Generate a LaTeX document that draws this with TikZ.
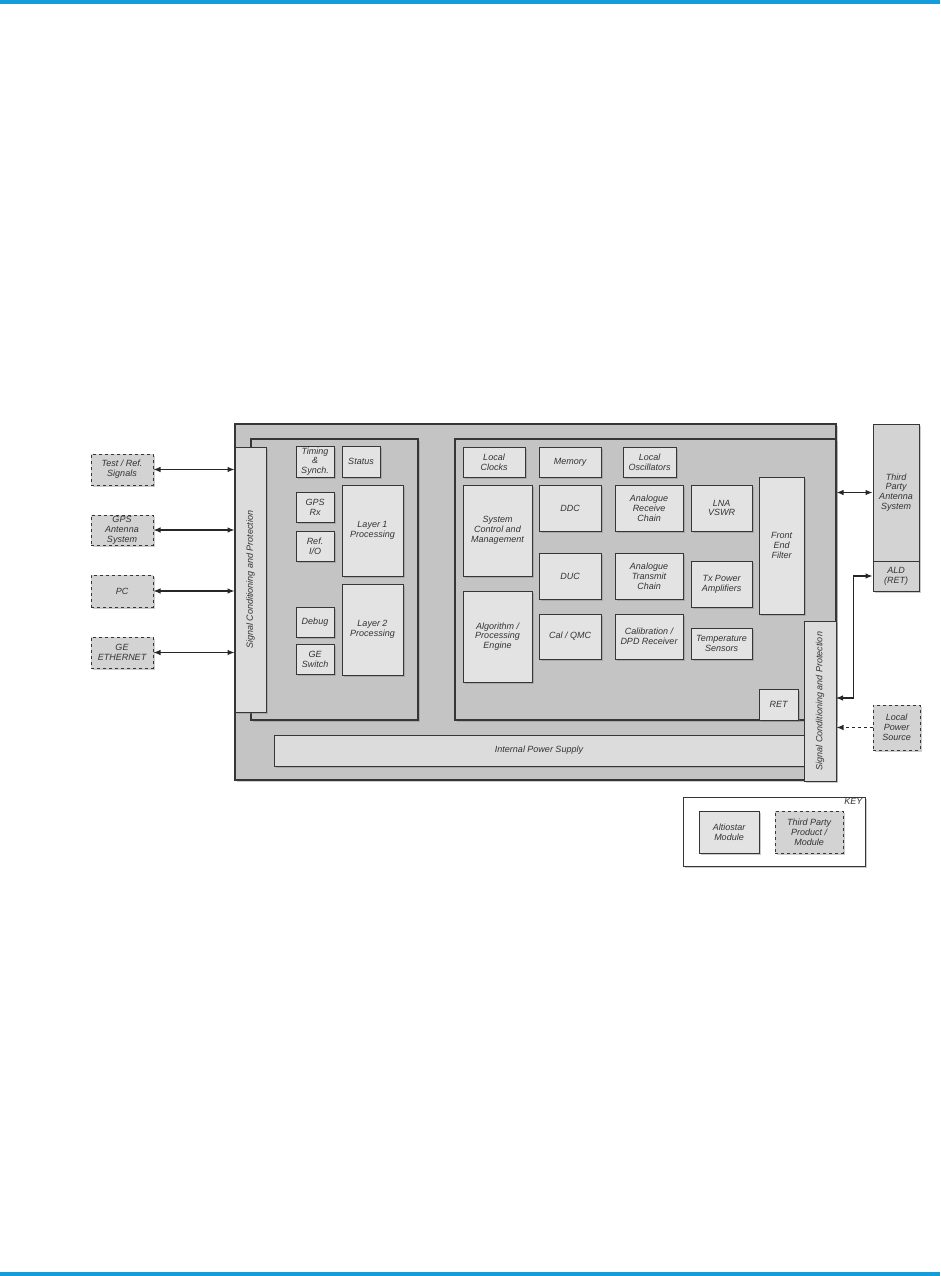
\documentclass[tikz,border=0pt]{standalone}
\usepackage{fontspec}
\setmainfont{Liberation Sans}
\usetikzlibrary{arrows.meta,shadows}
\definecolor{bandblue}{HTML}{149CDB}
\definecolor{edgegray}{HTML}{363636}
\definecolor{casegray}{HTML}{C4C4C4}
\definecolor{modgray}{HTML}{E3E3E3}
\definecolor{bargray}{HTML}{DCDCDC}
\definecolor{tpgray}{HTML}{D3D3D3}

\begin{document}
\begin{tikzpicture}[x=1pt,y=-1pt,
    every node/.style={font=\itshape\fontsize{9}{9.8}\selectfont, text=black!80, align=center, inner sep=1pt},
    shade/.style={drop shadow={shadow xshift=1.5pt, shadow yshift=-1.5pt, opacity=0.4}},
    casing/.style={draw=edgegray, line width=1.1pt, fill=casegray, shade},
    sigbar/.style={draw=edgegray, line width=1pt, fill=bargray, shade},
    module/.style={draw=edgegray, line width=1pt, fill=modgray, shade},
    thirdparty/.style={module, dashed, fill=tpgray},
    link/.style={{Latex[length=7pt,width=5.5pt]}-{Latex[length=7pt,width=5.5pt]}, line width=1.1pt, draw=black!85},
    feed/.style={-{Latex[length=7pt,width=5.5pt]}, dashed, line width=1.1pt, draw=black!85}]
    \useasboundingbox (0,0) rectangle (940,1276);
    % Page bands
    \fill[bandblue] (0,0) rectangle (940,4);
    \fill[bandblue] (0,1272) rectangle (940,1276);
    % Unit and panels
    \node[casing, minimum width=601, minimum height=356] (unit) at (535.5,602) {};
    \node[casing, minimum width=167, minimum height=281] (lpanel) at (334.5,579.5) {};
    \node[casing, minimum width=381, minimum height=281] (rpanel) at (645.5,579.5) {};
    \node[sigbar, minimum width=530, minimum height=31] (power) at (539,750.5) {Internal Power Supply};
    \node[sigbar, minimum width=31, minimum height=265] (lsig) at (250.5,579.5) {};
    \node[rotate=90] at (lsig) {Signal Conditioning and Protection};
    \node[sigbar, minimum width=32, minimum height=160] (rsig) at (820,701) {};
    \node[rotate=90] at (rsig) {Signal Conditioning and Protection};
    % Left panel
    \node[module, minimum width=38, minimum height=31] (timing) at (315,461.5) {Timing\\\&\\Synch.};
    \node[module, minimum width=38, minimum height=31] (status) at (361,461.5) {Status};
    \node[module, minimum width=38, minimum height=30] (gpsrx) at (315,507) {GPS\\Rx};
    \node[module, minimum width=38, minimum height=30] (refio) at (315,546) {Ref.\\I/O};
    \node[module, minimum width=61, minimum height=91] (layerone) at (372.5,530.5) {Layer 1\\Processing};
    \node[module, minimum width=38, minimum height=30] (debug) at (315,622) {Debug};
    \node[module, minimum width=38, minimum height=30] (geswitch) at (315,659) {GE\\Switch};
    \node[module, minimum width=61, minimum height=91] (layertwo) at (372.5,629.5) {Layer 2\\Processing};
    % Right panel
    \node[module, minimum width=62, minimum height=30] (clocks) at (494,462) {Local\\Clocks};
    \node[module, minimum width=62, minimum height=30] (memory) at (570,462) {Memory};
    \node[module, minimum width=53, minimum height=30] (osc) at (649.5,462) {Local\\Oscillators};
    \node[module, minimum width=69, minimum height=91] (sysctrl) at (497.5,530.5) {System\\Control and\\Management};
    \node[module, minimum width=69, minimum height=91] (algo) at (497.5,636.5) {Algorithm /\\Processing\\Engine};
    \node[module, minimum width=62, minimum height=46] (ddc) at (570,508) {DDC};
    \node[module, minimum width=62, minimum height=46] (duc) at (570,576) {DUC};
    \node[module, minimum width=62, minimum height=45] (calqmc) at (570,636.5) {Cal / QMC};
    \node[module, minimum width=68, minimum height=46] (rxchain) at (649,508) {Analogue\\Receive\\Chain};
    \node[module, minimum width=68, minimum height=46] (txchain) at (649,576) {Analogue\\Transmit\\Chain};
    \node[module, minimum width=68, minimum height=45] (dpdrx) at (649,636.5) {Calibration /\\DPD Receiver};
    \node[module, minimum width=61, minimum height=46] (lna) at (721.5,508) {LNA\\VSWR};
    \node[module, minimum width=61, minimum height=46] (txpa) at (721.5,584) {Tx Power\\Amplifiers};
    \node[module, minimum width=61, minimum height=31] (temp) at (721.5,643.5) {Temperature\\Sensors};
    \node[module, minimum width=45, minimum height=137] (frontend) at (781.5,545.5) {Front\\End\\Filter};
    \node[module, minimum width=39, minimum height=31] (ret) at (778.5,704.5) {RET};
    % Outside the unit
    \node[thirdparty, minimum width=62, minimum height=31] (testref) at (122,469.5) {Test / Ref.\\Signals};
    \node[thirdparty, minimum width=62, minimum height=30] (gpsant) at (122,530) {GPS\\Antenna\\System};
    \node[thirdparty, minimum width=62, minimum height=32] (pc) at (122,591) {PC};
    \node[thirdparty, minimum width=62, minimum height=31] (geeth) at (122,652.5) {GE\\ETHERNET};
    \node[module, fill=tpgray, minimum width=46, minimum height=137] (antenna) at (896,492.5) {Third\\Party\\Antenna\\System};
    \node[module, fill=tpgray, minimum width=46, minimum height=30] (ald) at (896,576) {ALD\\(RET)};
    \node[thirdparty, minimum width=47, minimum height=45] (localpwr) at (896.5,727.5) {Local\\Power\\Source};
    % Links
    \draw[link] (testref.east) -- (testref.east -| lsig.west);
    \draw[link] (gpsant.east) -- (gpsant.east -| lsig.west);
    \draw[link] (pc.east) -- (pc.east -| lsig.west);
    \draw[link] (geeth.east) -- (geeth.east -| lsig.west);
    \draw[link] (antenna.west) -- (antenna.west -| unit.east);
    \coordinate (retport) at (836,698);
    \draw[link] (ald.west) -- ++(-19,0) |- (retport);
    \draw[feed] (localpwr.west) -- (localpwr.west -| rsig.east);
    % Key
    \node[draw=edgegray, line width=1pt, fill=white, shade, minimum width=182, minimum height=69] (key) at (774,831.5) {};
    \node[anchor=north east] at ([xshift=-2pt,yshift=-1pt]key.north east) {KEY};
    \node[module, minimum width=60, minimum height=42] (altiostar) at (729,832) {Altiostar\\Module};
    \node[thirdparty, minimum width=68, minimum height=42] (thirdkey) at (809,832) {Third Party\\Product /\\Module};
\end{tikzpicture}
\end{document}
